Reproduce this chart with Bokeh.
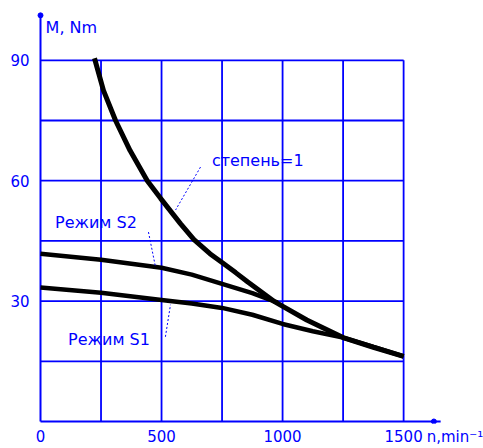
from bokeh.plotting import figure
from bokeh.models import Range1d, FixedTicker
from bokeh.core.properties import value
from bokeh.embed import file_html
from bokeh.resources import INLINE

# ---- data ----
x_ticks = [0, 500, 1000, 1500]
x_unit_pos = 1712
x_unit_label = "n,min⁻¹"
y_ticks = [30, 60, 90]
grid_x = [250, 500, 750, 1000, 1250, 1500]
grid_y = [15, 30, 45, 60, 75, 90]

# "степень=1" curve
n_pow = [223, 260, 310, 370, 441, 496, 578, 634, 700, 750, 806, 855, 963, 1100, 1250, 1375, 1500]
m_pow = [90.5, 82.5, 75, 67.5, 60, 55.6, 49.3, 45.3, 41.8, 39.6, 37.1, 34.8, 30.0, 25.3, 20.9, 18.5, 16.2]

# "Режим S2"
n_s2 = [0, 250, 500, 625, 750, 875, 980]
m_s2 = [41.8, 40.3, 38.3, 36.6, 34.3, 32.0, 29.6]

# "Режим S1"
n_s1 = [0, 250, 500, 625, 750, 875, 1000, 1125, 1250, 1375, 1500]
m_s1 = [33.4, 32.1, 30.3, 29.4, 28.3, 26.6, 24.3, 22.5, 20.9, 18.6, 16.2]

labels_txt = ["степень=1", "Режим S2", "Режим S1"]
labels_n = [708, 60, 114]
labels_m = [65.1, 49.5, 20.4]
leader_n0 = [661, 446, 516]
leader_m0 = [63.4, 47.2, 21.1]
leader_n1 = [558, 475, 537]
leader_m1 = [52.7, 38.5, 29.1]

BLUE = "#0000ff"
FONT = "DejaVu Sans"

p = figure(width=483, height=448, output_backend="svg", toolbar_location=None,
           x_range=Range1d(-24.8, 1830), y_range=Range1d(-0.5, 104.9),
           min_border_left=34, min_border_right=0, min_border_top=0, min_border_bottom=24)
p.outline_line_color = None
p.grid.visible = False
p.background_fill_color = "white"

for ax in (p.xaxis[0], p.yaxis[0]):
    ax.axis_line_color = None
    ax.major_tick_line_color = None
    ax.minor_tick_line_color = None
    ax.major_tick_out = 0
    ax.major_tick_in = 0
    ax.minor_tick_out = 0
    ax.minor_tick_in = 0
    ax.major_label_text_color = BLUE
    ax.major_label_text_font = FONT
    ax.major_label_text_font_size = "15px"
p.xaxis.ticker = FixedTicker(ticks=x_ticks + [x_unit_pos])
p.xaxis.major_label_overrides = {x_unit_pos: x_unit_label}
p.yaxis.ticker = FixedTicker(ticks=y_ticks)
p.xaxis.major_label_standoff = 4
p.yaxis.major_label_standoff = 5

# grid
p.segment(x0=grid_x, y0=[0] * len(grid_x), x1=grid_x, y1=[90] * len(grid_x),
          line_color=BLUE, line_width=1.8)
p.segment(x0=[0] * len(grid_y), y0=grid_y, x1=[1500] * len(grid_y), y1=grid_y,
          line_color=BLUE, line_width=1.8)
# axes lines with arrow tips
p.segment(x0=[0, 0], y0=[0, 0], x1=[0, 1653], y1=[101.2, 0], line_color=BLUE, line_width=2)
p.scatter(x=[0, 1625], y=[101.2, 0], size=5, color=BLUE)

# curves
p.line(n_s1, m_s1, line_color="black", line_width=4.5)
p.line(n_s2, m_s2, line_color="black", line_width=4.5)
p.line(n_pow, m_pow, line_color="black", line_width=5)

# leaders
p.segment(x0=leader_n0, y0=leader_m0, x1=leader_n1, y1=leader_m1,
          line_color=BLUE, line_width=1, line_dash="2 2")

p.text(x=labels_n, y=labels_m, text=labels_txt, text_color=BLUE,
       text_font=value(FONT), text_font_size="16px", text_baseline="middle", text_align="left")
p.text(x=[21], y=[98.2], text=["M, Nm"], text_color=BLUE,
       text_font=value(FONT), text_font_size="16px", text_baseline="middle", text_align="left")

open("out.html", "w").write(file_html(p, INLINE))
